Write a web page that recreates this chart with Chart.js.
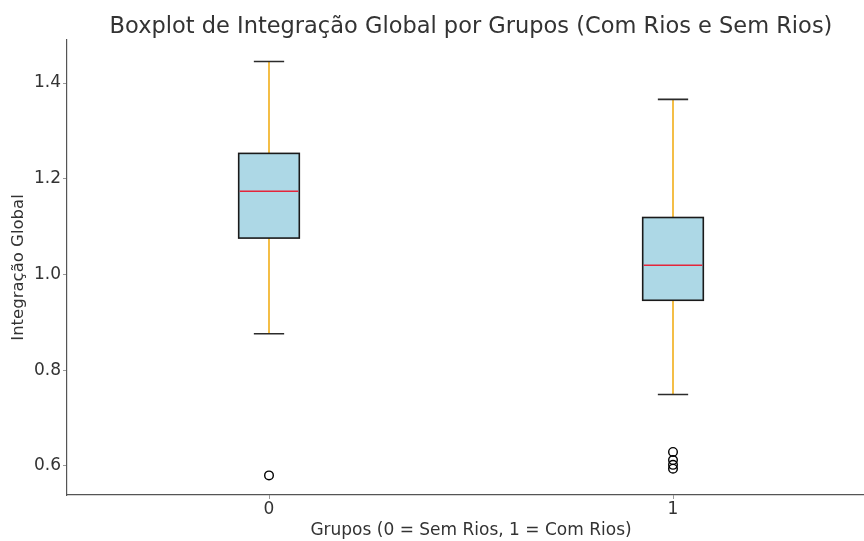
<!DOCTYPE html>
<html>
<head>
<meta charset="utf-8">
<script src="https://cdn.jsdelivr.net/npm/chart.js@4/dist/chart.umd.min.js"></script>
<style>
  html, body { margin: 0; padding: 0; background: #fff; overflow: hidden; }
  #wrap { width: 890px; height: 541px; }
</style>
</head>
<body>
<div id="wrap"><canvas id="c" width="890" height="541"></canvas></div>
<script>
// Groups: 0 = Sem Rios, 1 = Com Rios
const groups = [0, 1];
const whiskerLow  = [0.876, 0.749];
const q1          = [1.076, 0.946];
const median      = [1.174, 1.019];
const q3          = [1.253, 1.119];
const whiskerHigh = [1.445, 1.366];
const outliers = [
  [0.580],
  [0.629, 0.612, 0.602, 0.594]
];
const yTicks = [0.6, 0.8, 1.0, 1.2, 1.4];

const BOX_WIDTH = 0.15;   // in x-axis units
const CAP_WIDTH = 0.075;

const outlierPoints = [];
groups.forEach((g, i) => outliers[i].forEach(v => outlierPoints.push({ x: g, y: v })));

// Draws box, whiskers, caps and median for each group using the chart scales
const boxPlotPlugin = {
  id: 'boxPlot',
  beforeDatasetsDraw(chart) {
    const { ctx, scales: { x, y } } = chart;
    ctx.save();
    groups.forEach((g, i) => {
      const xc = x.getPixelForValue(g);
      const xl = x.getPixelForValue(g - BOX_WIDTH / 2);
      const xr = x.getPixelForValue(g + BOX_WIDTH / 2);
      const cl = x.getPixelForValue(g - CAP_WIDTH / 2);
      const cr = x.getPixelForValue(g + CAP_WIDTH / 2);
      const yLo = y.getPixelForValue(whiskerLow[i]);
      const yQ1 = y.getPixelForValue(q1[i]);
      const yMed = y.getPixelForValue(median[i]);
      const yQ3 = y.getPixelForValue(q3[i]);
      const yHi = y.getPixelForValue(whiskerHigh[i]);

      // whiskers
      ctx.strokeStyle = '#f2ae1a';
      ctx.lineWidth = 1.6;
      ctx.beginPath();
      ctx.moveTo(xc, yQ3); ctx.lineTo(xc, yHi);
      ctx.moveTo(xc, yQ1); ctx.lineTo(xc, yLo);
      ctx.stroke();

      // caps
      ctx.strokeStyle = '#2b2b2b';
      ctx.lineWidth = 1.6;
      ctx.beginPath();
      ctx.moveTo(cl, yHi); ctx.lineTo(cr, yHi);
      ctx.moveTo(cl, yLo); ctx.lineTo(cr, yLo);
      ctx.stroke();

      // box
      ctx.fillStyle = '#add8e6';
      ctx.fillRect(xl, yQ3, xr - xl, yQ1 - yQ3);
      ctx.strokeStyle = '#1a1a1a';
      ctx.lineWidth = 1.6;
      ctx.strokeRect(xl, yQ3, xr - xl, yQ1 - yQ3);

      // median
      ctx.strokeStyle = '#e4253a';
      ctx.lineWidth = 1.5;
      ctx.beginPath();
      ctx.moveTo(xl + 1, yMed); ctx.lineTo(xr - 1, yMed);
      ctx.stroke();
    });
    ctx.restore();
  }
};

const font = 'DejaVu Sans';
const textColor = '#333333';

new Chart(document.getElementById('c'), {
  type: 'scatter',
  data: {
    datasets: [{
      label: 'Outliers',
      data: outlierPoints,
      pointStyle: 'circle',
      pointRadius: 4.3,
      pointBorderWidth: 1.4,
      pointBorderColor: '#000',
      pointBackgroundColor: 'rgba(255,255,255,0)'
    }]
  },
  options: {
    responsive: false,
    animation: false,
    layout: { padding: { left: 0, right: 15, top: 0, bottom: 0 } },
    plugins: {
      legend: { display: false },
      tooltip: { enabled: false },
      title: {
        display: true,
        text: 'Boxplot de Integração Global por Grupos (Com Rios e Sem Rios)',
        color: textColor,
        fullSize: false,
        font: { family: font, size: 22.5, weight: 'normal', lineHeight: 1.1 },
        padding: { top: 15, bottom: 0.25 }
      }
    },
    scales: {
      x: {
        type: 'linear',
        min: -0.5,
        max: 1.5,
        afterBuildTicks(scale) { scale.ticks = groups.map(v => ({ value: v })); },
        afterFit(scale) { scale.height = 46; },
        ticks: {
          color: textColor,
          font: { family: font, size: 17 },
          padding: 0,
          callback: v => String(v)
        },
        grid: { drawOnChartArea: false, drawTicks: true, tickLength: 4, color: '#999' },
        border: { color: '#555', width: 1.2 },
        title: {
          display: true,
          text: 'Grupos (0 = Sem Rios, 1 = Com Rios)',
          color: textColor,
          font: { family: font, size: 17 },
          padding: { top: 0, bottom: 0 }
        }
      },
      y: {
        type: 'linear',
        min: 0.539,
        max: 1.490,
        afterBuildTicks(scale) { scale.ticks = yTicks.map(v => ({ value: v })); },
        afterFit(scale) { scale.width = 67; },
        ticks: {
          color: textColor,
          font: { family: font, size: 17 },
          padding: 2,
          callback: v => v.toFixed(1)
        },
        grid: { drawOnChartArea: false, drawTicks: true, tickLength: 4, color: '#999' },
        border: { color: '#555', width: 1.2 },
        title: {
          display: true,
          text: 'Integração Global',
          color: textColor,
          font: { family: font, size: 16.5 },
          padding: { top: 9, bottom: 0 }
        }
      }
    }
  },
  plugins: [boxPlotPlugin]
});
</script>
</body>
</html>
